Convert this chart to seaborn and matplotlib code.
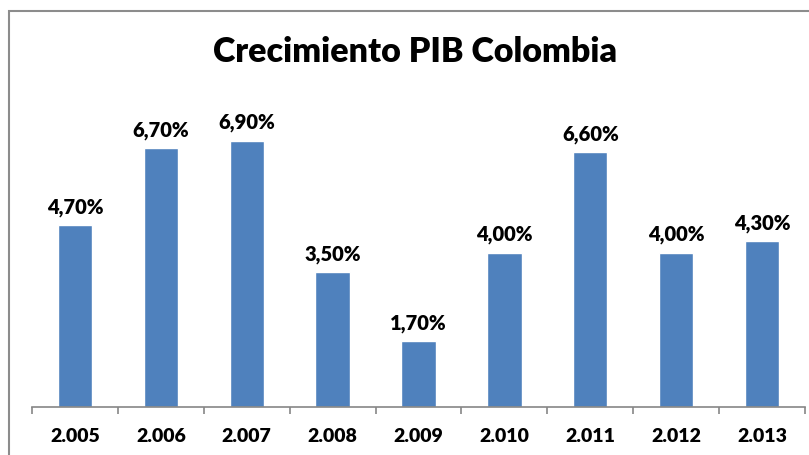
import matplotlib
matplotlib.use("Agg")
import matplotlib.pyplot as plt
import seaborn as sns
import pandas as pd
from matplotlib.patches import Rectangle

years = ["2.005", "2.006", "2.007", "2.008", "2.009", "2.010", "2.011", "2.012", "2.013"]
growth = [4.7, 6.7, 6.9, 3.5, 1.7, 4.0, 6.6, 4.0, 4.3]
labels = ["4,70%", "6,70%", "6,90%", "3,50%", "1,70%", "4,00%", "6,60%", "4,00%", "4,30%"]

df = pd.DataFrame({"year": years, "growth": growth})

sns.set_style("white")
plt.rcParams["font.family"] = ["Lato", "DejaVu Sans"]
plt.rcParams["text.color"] = "black"
plt.rcParams["xtick.color"] = "black"

fig = plt.figure(figsize=(8.09, 4.55), dpi=100)
ax = fig.add_axes([0.0396, 0.1055, 0.9554, 0.679])

sns.barplot(data=df, x="year", y="growth", color="#4F81BD", saturation=1,
            width=0.4, ax=ax)

ax.bar_label(ax.containers[0], labels=labels, padding=6,
             fontsize=14.5, fontweight="heavy", color="black")

ax.set_ylim(0, 8)
ax.set_xlim(-0.5, len(years) - 0.5)
ax.set_xlabel("")
ax.set_ylabel("")
ax.set_yticks([])
for s in ["top", "right", "left"]:
    ax.spines[s].set_visible(False)
ax.spines["bottom"].set_color("#868686")
ax.spines["bottom"].set_linewidth(1.2)

ax.tick_params(axis="x", which="major", length=0, pad=15,
               labelsize=14, labelcolor="black")
for t in ax.get_xticklabels():
    t.set_fontweight("heavy")
ax.set_xticks([i - 0.5 for i in range(len(years) + 1)], minor=True)
ax.tick_params(axis="x", which="minor", bottom=True, length=5, width=1.2,
               color="#868686", direction="out")

fig.text(0.513, 0.885, "Crecimiento PIB Colombia", ha="center", va="center",
         fontsize=24.5, fontweight="heavy", color="black")

border = Rectangle((9 / 809, -0.1), 1.2, 1 - 11 / 455 + 0.1,
                   transform=fig.transFigure, fill=False,
                   edgecolor="#8C8C8C", linewidth=1.5)
fig.add_artist(border)

fig.savefig("out.png", dpi=100)
